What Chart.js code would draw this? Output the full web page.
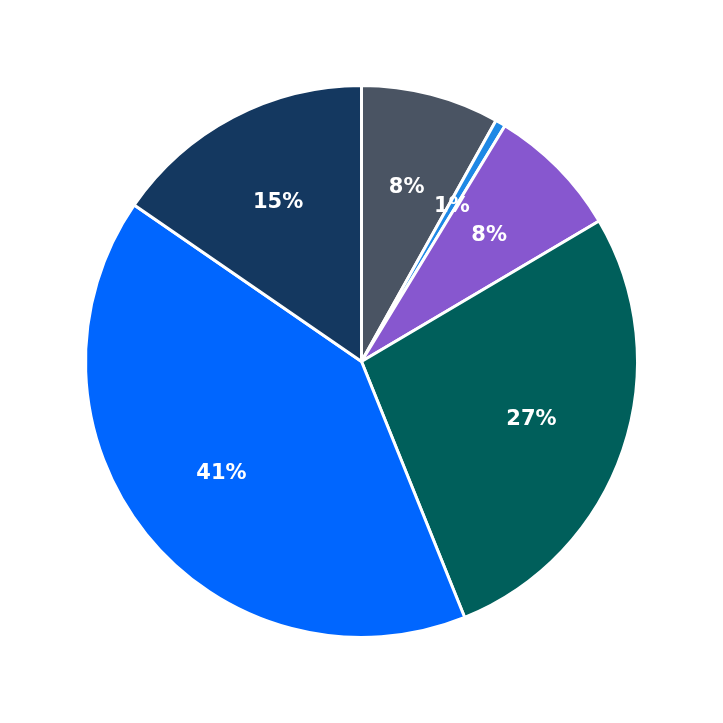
<!DOCTYPE html>
<html>
<head>
<meta charset="utf-8">
<script src="https://cdn.jsdelivr.net/npm/chart.js"></script>
<style>
  html, body { margin: 0; padding: 0; background: #fff; }
</style>
</head>
<body>
<canvas id="chart" width="723" height="723"></canvas>
<script>
const categories = ["A", "B", "C", "D", "E", "F"];
const values = [8.1, 0.6, 7.8, 27.4, 40.7, 15.4];
const colors = ["#4a5463", "#1e88e5", "#8757cf", "#005f5b", "#0066ff", "#143860"];

// draws percentage labels inside each slice
const sliceLabels = {
  id: "sliceLabels",
  afterDatasetsDraw(chart) {
    const ctx = chart.ctx;
    const meta = chart.getDatasetMeta(0);
    const total = values.reduce((a, b) => a + b, 0);
    ctx.save();
    ctx.font = "bold 21px 'DejaVu Sans'";
    ctx.fillStyle = "#ffffff";
    ctx.textAlign = "center";
    ctx.textBaseline = "middle";
    meta.data.forEach((arc, i) => {
      const mid = (arc.startAngle + arc.endAngle) / 2;
      const r = arc.outerRadius * 0.65;
      const pct = Math.round(values[i] / total * 100);
      ctx.fillText(pct + "%", arc.x + Math.cos(mid) * r, arc.y + Math.sin(mid) * r);
    });
    ctx.restore();
  }
};

new Chart(document.getElementById("chart"), {
  type: "pie",
  data: {
    labels: categories,
    datasets: [{
      data: values,
      backgroundColor: colors,
      borderColor: "#ffffff",
      borderWidth: 3
    }]
  },
  options: {
    responsive: false,
    animation: false,
    layout: { padding: 84 },
    plugins: {
      legend: { display: false },
      tooltip: { enabled: false }
    }
  },
  plugins: [sliceLabels]
});
</script>
</body>
</html>
